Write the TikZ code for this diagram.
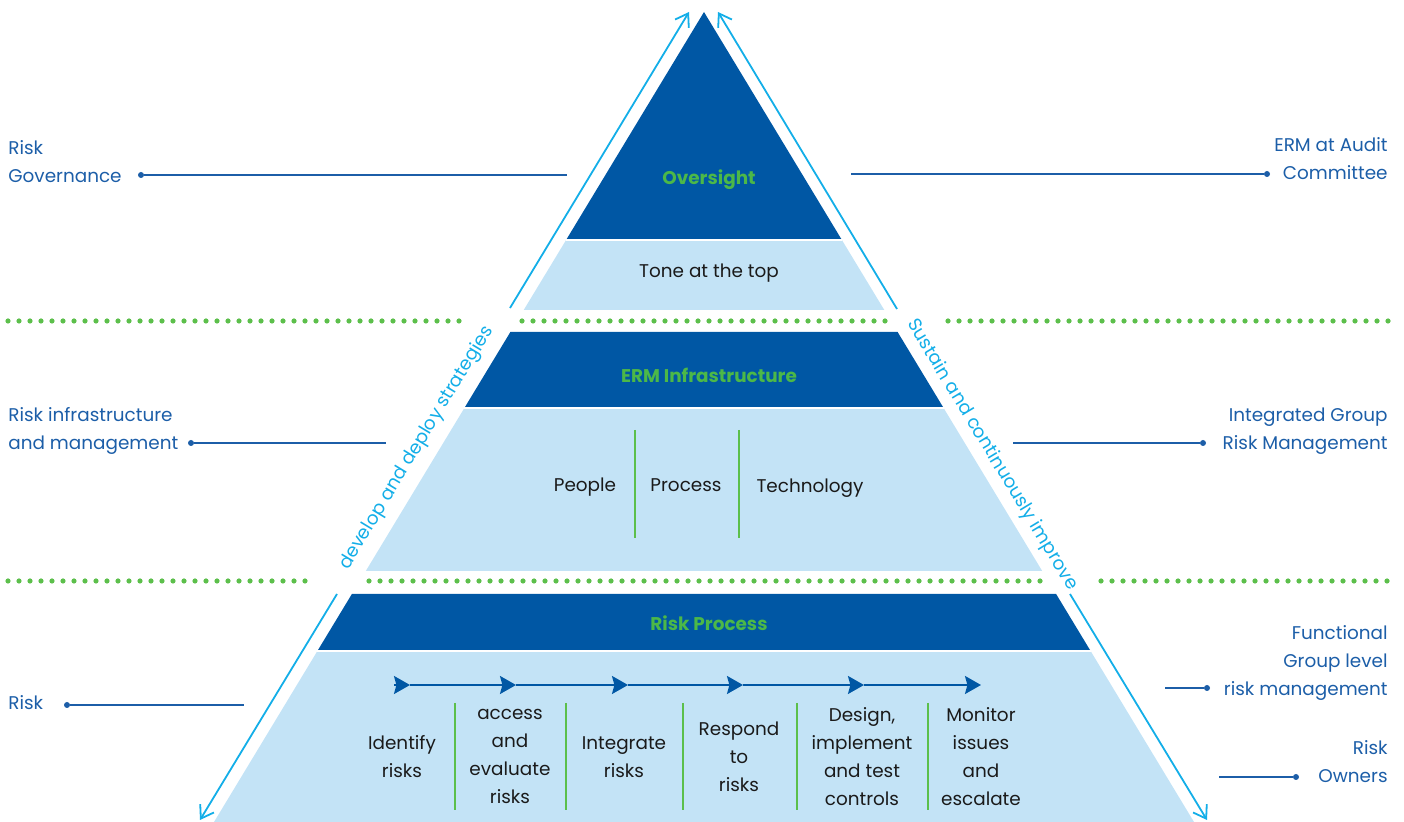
\documentclass[tikz,border=0pt]{standalone}
\usepackage{fontspec}
\setmainfont{Poppins}
\usetikzlibrary{arrows.meta}
\definecolor{dblue}{HTML}{0057A4}
\definecolor{lblue}{HTML}{C3E3F6}
\definecolor{tgreen}{HTML}{4CB848}
\definecolor{dgreen}{HTML}{5CBF4B}
\definecolor{cyanline}{HTML}{13AEE8}
\definecolor{labblue}{HTML}{1C5EA8}
\definecolor{txtblack}{HTML}{1A1A1A}
\newcommand{\fz}{\fontsize{9.2}{14}\selectfont}
\newcommand{\nl}{\\\strut}
\begin{document}
\begin{tikzpicture}[x=0.5pt,y=-0.5pt,
  lab/.style={text=labblue, font=\fz, inner sep=0pt, execute at begin node=\strut},
  labl/.style={lab, align=left, anchor=west},
  labr/.style={lab, align=right, anchor=east},
  intxt/.style={text=txtblack, font=\fz, inner sep=0pt, align=center, execute at begin node=\strut},
  ttl/.style={text=tgreen, font=\fz\bfseries, inner sep=0pt, execute at begin node=\strut},
  rottxt/.style={text=cyanline, font=\fz, inner sep=0pt},
  conn/.style={draw=labblue, line width=0.85pt},
  dotn/.style={circle, fill=labblue, inner sep=0pt, minimum size=3pt},
  dotline/.style={draw=dgreen, line width=2.6pt, line cap=round, dash pattern=on 0pt off 5.5pt},
  flow/.style={draw=cyanline, line width=0.9pt, -{Straight Barb[length=6pt,width=8pt,line width=0.9pt]}},
  pflow/.style={draw=dblue, line width=0.9pt, -{Stealth[length=8pt,width=9pt,inset=1.2pt]}},
  divider/.style={draw=dgreen, line width=0.7pt},
  sep/.style={draw=white, line width=0.7pt}
]
\useasboundingbox (0,0) rectangle (1404,822);

% ---------- pyramid tiers ----------
\fill[dblue] (704,12) -- (841.9,240) -- (566.1,240) -- cycle;
\fill[lblue] (566.1,240) -- (841.9,240) -- (884.3,310) -- (523.7,310) -- cycle;
\fill[dblue] (510.4,332) -- (897.6,332) -- (943.6,408) -- (464.4,408) -- cycle;
\fill[lblue] (464.4,408) -- (943.6,408) -- (1042.2,571) -- (365.8,571) -- cycle;
\fill[dblue] (351.9,594) -- (1056.1,594) -- (1090.6,651) -- (317.4,651) -- cycle;
\fill[lblue] (317.4,651) -- (1090.6,651) -- (1194,822) -- (214,822) -- cycle;
\draw[sep] (566.1,240) -- (841.9,240);
\draw[sep] (464.4,408) -- (943.6,408);
\draw[sep] (317.4,651) -- (1090.6,651);

% ---------- dotted green lines ----------
\draw[dotline] (8,321) -- (463,321);
\draw[dotline] (522,321) -- (888,321);
\draw[dotline] (948,321) -- (1388,321);
\draw[dotline] (8,581) -- (305,581);
\draw[dotline] (369,581) -- (1040,581);
\draw[dotline] (1101,581) -- (1388,581);

% ---------- cyan arrows ----------
\coordinate (ulA) at (510,308); \coordinate (ulB) at (689,12);
\coordinate (urA) at (897,309); \coordinate (urB) at (718,12);
\coordinate (llA) at (337,594); \coordinate (llB) at (200,820);
\coordinate (lrA) at (1070,594); \coordinate (lrB) at (1207,820);
\draw[flow] (ulA) -- (ulB);
\draw[flow] (urA) -- (urB);
\draw[flow] (llA) -- (llB);
\draw[flow] (lrA) -- (lrB);
\node[rottxt, rotate=58.8] (dev) at (417,448) {develop and deploy strategies};
\node[rottxt, rotate=-58.8] (sus) at (992,455) {Sustain and continuously improve};

% ---------- tier texts ----------
\node[ttl] (over) at (709,179) {Oversight};
\node[intxt] (tone) at (709,272) {Tone at the top};
\node[ttl] (erm) at (709,377) {ERM Infrastructure};
\node[intxt] (people) at (585,486) {People};
\node[intxt] (process) at (686,486) {Process};
\node[intxt] (tech) at (810,487) {Technology};
\draw[divider] (635,430) -- (635,538);
\draw[divider] (739,430) -- (739,538);
\node[ttl] (rp) at (709,625) {Risk Process};

% process flow
\coordinate (s0) at (394,685);
\coordinate (t1) at (410,685);
\coordinate (t2) at (516,685);
\coordinate (t3) at (628,685);
\coordinate (t4) at (743,685);
\coordinate (t5) at (864,685);
\coordinate (t6) at (981,685);
\draw[pflow] (s0) -- (t1);
\draw[pflow] (t1) -- (t2);
\draw[pflow] (t2) -- (t3);
\draw[pflow] (t3) -- (t4);
\draw[pflow] (t4) -- (t5);
\draw[pflow] (t5) -- (t6);

\node[intxt] (st1) at (402,761) {Identify\nl risks};
\node[intxt] (st2) at (510,761) {access\nl and\nl evaluate\nl risks};
\node[intxt] (st3) at (624,761) {Integrate\nl risks};
\node[intxt] (st4) at (739,761) {Respond\nl to\nl risks};
\node[intxt] (st5) at (862,761) {Design,\nl implement\nl and test\nl controls};
\node[intxt] (st6) at (981,761) {Monitor\nl issues\nl and\nl escalate};
\foreach \x in {455,566,683,797,928} \draw[divider] (\x,703) -- (\x,810);

% ---------- side labels ----------
\node[labl] (gov) at (8,166) {Risk\nl Governance};
\node[dotn] (govd) at (141,175) {};
\coordinate (gove) at (567,175);
\draw[conn] (govd) -- (gove);

\node[labr] (aud) at (1388,163) {ERM at Audit\nl Committee};
\node[dotn] (audd) at (1267,174) {};
\coordinate (aude) at (851,174);
\draw[conn] (aude) -- (audd);

\node[labl] (infra) at (8,433) {Risk infrastructure\nl and management};
\node[dotn] (infrad) at (191,443) {};
\coordinate (infrae) at (386,443);
\draw[conn] (infrad) -- (infrae);

\node[labr] (igrm) at (1388,433) {Integrated Group\nl Risk Management};
\node[dotn] (igrmd) at (1203,443) {};
\coordinate (igrme) at (1013,443);
\draw[conn] (igrme) -- (igrmd);

\node[labl] (risk) at (8,704) {Risk};
\node[dotn] (riskd) at (67,705) {};
\coordinate (riske) at (244,705);
\draw[conn] (riskd) -- (riske);

\node[labr] (func) at (1388,665) {Functional\nl Group level\nl risk management};
\node[dotn] (funcd) at (1207,688) {};
\coordinate (funce) at (1165,688);
\draw[conn] (funce) -- (funcd);

\node[labr] (own) at (1388,766) {Risk\nl Owners};
\node[dotn] (ownd) at (1296,777) {};
\coordinate (owne) at (1219,777);
\draw[conn] (owne) -- (ownd);
\end{tikzpicture}
\end{document}
